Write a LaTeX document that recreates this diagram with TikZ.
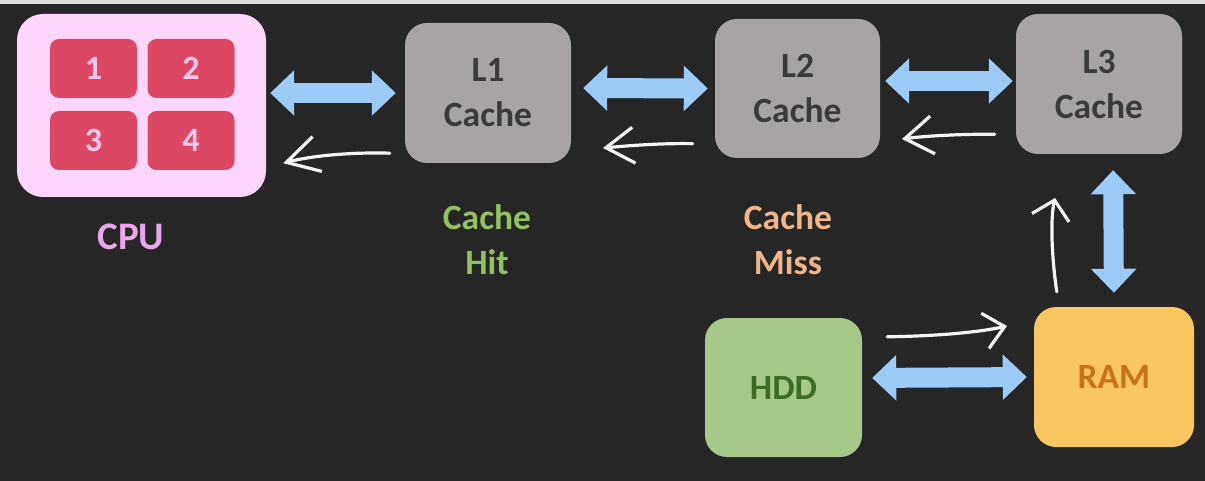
\documentclass[tikz,border=0pt]{standalone}
\usepackage{fontspec}
\setmainfont{Carlito}
\usetikzlibrary{arrows.meta,calc}
\definecolor{bg}{HTML}{262626}
\definecolor{strip}{HTML}{DCDCDC}
\definecolor{cpufill}{HTML}{FDD6FD}
\definecolor{corefill}{HTML}{DC4763}
\definecolor{coretext}{HTML}{F8C8EE}
\definecolor{cputext}{HTML}{E9A6EA}
\definecolor{cachefill}{HTML}{A8A4A4}
\definecolor{cachetext}{HTML}{3A3A3A}
\definecolor{flow}{HTML}{9CCBF8}
\definecolor{hddfill}{HTML}{A6C98A}
\definecolor{hddtext}{HTML}{3C6B24}
\definecolor{ramfill}{HTML}{FAC661}
\definecolor{ramtext}{HTML}{C8721A}
\definecolor{hit}{HTML}{92C25F}
\definecolor{miss}{HTML}{F2B589}
\definecolor{pen}{HTML}{F4F4F4}
\tikzset{
  bigfont/.style={font=\fontsize{35.5}{45}\selectfont\bfseries},
  box/.style={inner sep=0pt, rounded corners=22pt, align=center, bigfont},
  corebox/.style={inner sep=0pt, rounded corners=9pt, fill=corefill, text=coretext,
     minimum width=87pt, minimum height=59pt, font=\fontsize{34}{40}\selectfont\bfseries},
  cachebox/.style={box, fill=cachefill, text=cachetext, minimum width=166pt, minimum height=140pt},
  duplex/.style={flow, line width=20pt,
     {Triangle[width=44pt,length=24pt]}-{Triangle[width=44pt,length=24pt]}},
  handarrow/.style={pen, line width=3.2pt, line cap=round, line join=round},
}
\begin{document}
\begin{tikzpicture}[x=1pt,y=-1pt]
\useasboundingbox (0,0) rectangle (1205,481);
\fill[bg] (0,0) rectangle (1205,481);
\fill[strip] (0,0) rectangle (1205,4);

% CPU
\node[box, fill=cpufill, minimum width=249pt, minimum height=183pt, rounded corners=26pt] (cpu) at (141.5,105.5) {};
\node[corebox] (c1) at (93.5,68.5) {1};
\node[corebox] (c2) at (191,68.5) {2};
\node[corebox] (c3) at (93.5,140.5) {3};
\node[corebox] (c4) at (191,140.5) {4};
\node[font=\fontsize{39}{45}\selectfont\bfseries, text=cputext] (cpulabel) at (131,237) {CPU};

% caches
\node[cachebox] (l1) at (488,93) {L1\\Cache};
\node[cachebox, minimum width=165pt, minimum height=139pt] (l2) at (797.5,88.5) {L2\\Cache};
\node[cachebox] (l3) at (1099,84) {L3\\Cache};

% memory
\node[box, fill=ramfill, text=ramtext, minimum width=160pt, minimum height=140pt] (ram) at (1114,377) {RAM};
\node[box, fill=hddfill, text=hddtext, minimum width=157pt, minimum height=139pt] (hdd) at (783.5,387.5) {HDD};

% labels
\node[bigfont, text=hit, align=center] (hitlabel) at (487,240) {Cache\\Hit};
\node[bigfont, text=miss, align=center] (misslabel) at (788,240) {Cache\\Miss};

% blue two-way arrows
\draw[duplex, shorten <=4pt, shorten >=9pt] ([yshift=12.5pt]cpu.east) -- (l1.west);
\draw[duplex, shorten <=12pt, shorten >=7pt] ([yshift=5pt]l1.east) -- (l2.west);
\draw[duplex, shorten <=5pt, shorten >=3pt] ([yshift=7.5pt]l2.east) -- ([yshift=3pt]l3.west);
\draw[duplex, shorten <=16pt, shorten >=14pt] ([xshift=14pt]l3.south) -- (ram.north);
\draw[duplex, shorten <=10pt, shorten >=7pt] ([yshift=9.5pt]hdd.east) -- (ram.west);

% hand-drawn white arrows
\coordinate (a1s) at ([xshift=-15pt,yshift=10pt]l1.south west);
\coordinate (a1e) at ([xshift=17pt,yshift=34pt]cpu.south east);
\draw[handarrow, -{Straight Barb[length=32pt,width=36pt]}]
  (a1s) .. controls (350,152) and (310,156) .. (a1e);

\coordinate (a2s) at ([xshift=-22pt,yshift=14.5pt]l2.south west);
\coordinate (a2e) at (603,148);
\draw[handarrow, -{Straight Barb[length=28pt,width=36pt]}]
  (a2s) .. controls (660,143) and (625,146) .. (a2e);

\coordinate (a3s) at ([xshift=-21pt,yshift=20pt]l3.south west);
\coordinate (a3e) at (902,139);
\draw[handarrow, -{Straight Barb[length=28pt,width=38pt]}]
  (a3s) .. controls (960,134) and (925,136) .. (a3e);

\coordinate (a4s) at ([xshift=23pt,yshift=15pt]ram.north west);
\coordinate (a4e) at (1055,198);
\draw[handarrow, -{Straight Barb[length=18pt,width=38pt]}]
  (a4s) .. controls (1052,260) and (1050,220) .. (a4e);

\coordinate (a5s) at ([xshift=25pt,yshift=-19pt]hdd.north east);
\coordinate (a5e) at (1007,326);
\draw[handarrow, -{Straight Barb[length=20pt,width=36pt]}]
  (a5s) .. controls (940,336) and (980,332) .. (a5e);
\end{tikzpicture}
\end{document}
